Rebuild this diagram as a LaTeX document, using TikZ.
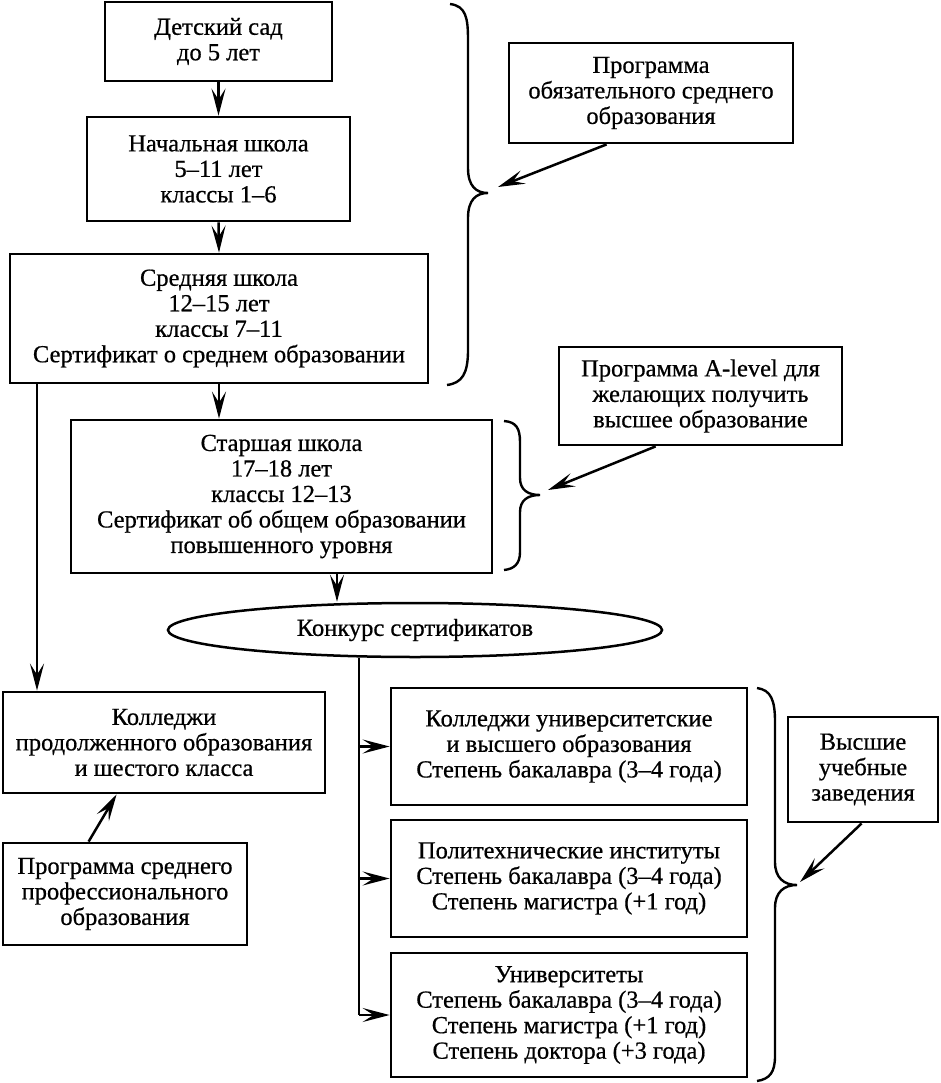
\documentclass[tikz,border=0pt]{standalone}
\usepackage{fontspec}
\setmainfont[FakeBold=0.6]{Liberation Serif}
\usetikzlibrary{arrows.meta,shapes.geometric}
\begin{document}
\begin{tikzpicture}[x=1pt,y=-1pt,
  box/.style={draw,line width=2.8pt,inner sep=0pt,align=center,font=\fontsize{24.5}{25.5}\selectfont},
  arr/.style={line width=2.5pt,-{Stealth[length=27pt,width=14pt,inset=11pt]}},
  brc/.style={line width=2.4pt}]
\fill[white] (0,0) rectangle (941,1083);
\useasboundingbox (0,0) rectangle (941,1083);

% main column
\node[box,minimum width=227pt,minimum height=79pt] (b1) at (218.5,41.5) {Детский сад\\до 5 лет};
\node[box,minimum width=263pt,minimum height=104pt] (b2) at (218.5,169) {Начальная школа\\5–11 лет\\классы 1–6};
\node[box,minimum width=418pt,minimum height=129pt] (b3) at (219,318.5) {Средняя школа\\12–15 лет\\классы 7–11\\Сертификат о среднем образовании};
\node[box,minimum width=421pt,minimum height=153pt] (b4) at (281.5,496.5) {Старшая школа\\17–18 лет\\классы 12–13\\Сертификат об общем образовании\\повышенного уровня};
\node[box,ellipse,line width=2.5pt,minimum width=494pt,minimum height=54pt] (ell) at (415,630) {Конкурс сертификатов};

% left
\node[box,minimum width=322pt,minimum height=101pt] (col) at (164,742.5) {Колледжи\\продолженного образования\\и шестого класса};
\node[box,minimum width=244pt,minimum height=102pt] (prog) at (125,894) {Программа среднего\\профессионального\\образования};

% right institutions
\node[box,minimum width=356pt,minimum height=117pt] (r1) at (569,746.5) {Колледжи университетские\\и высшего образования\\Степень бакалавра (3–4 года)};
\node[box,minimum width=356pt,minimum height=117pt] (r2) at (569,878.5) {Политехнические институты\\Степень бакалавра (3–4 года)\\Степень магистра (+1 год)};
\node[box,minimum width=356pt,minimum height=124pt] (r3) at (569,1015) {Университеты\\Степень бакалавра (3–4 года)\\Степень магистра (+1 год)\\Степень доктора (+3 года)};
\node[box,minimum width=150pt,minimum height=105pt] (vys) at (863,769.5) {Высшие\\учебные\\заведения};

% programmes
\node[box,minimum width=284pt,minimum height=100pt] (obyaz) at (651,93) {Программа\\обязательного среднего\\образования};
\node[box,minimum width=283pt,minimum height=98pt] (alev) at (700.5,396) {Программа A-level для\\желающих получить\\высшее образование};

% helper coordinates
\coordinate (lx) at (37,0);
\coordinate (tx) at (359,0);
\coordinate (t1) at (498,187);
\coordinate (t2) at (548,490);
\coordinate (t3) at (800,882);

% braces
\draw[brc] (450,4) .. controls (466,6) and (468,18) .. (468,40) -- (468,168)
  .. controls (468,186) and (476,193) .. (488,193)
  .. controls (476,193) and (468,200) .. (468,218) -- (468,350)
  .. controls (468,374) and (462,383) .. (447,385);
\draw[brc] (504,421) .. controls (516,422) and (520,428) .. (520,442) -- (520,478)
  .. controls (520,490) and (528,495) .. (540,495)
  .. controls (528,495) and (520,500) .. (520,512) -- (520,552)
  .. controls (520,564) and (514,569) .. (504,570);
\draw[brc] (757,688) .. controls (771,690) and (775,700) .. (775,722) -- (775,862)
  .. controls (775,878) and (784,885) .. (797,885)
  .. controls (784,885) and (775,892) .. (775,908) -- (775,1056)
  .. controls (775,1072) and (770,1079) .. (757,1081);

% connectors
\draw[arr] (b1.south) -- (b2.north);
\draw[arr] (b2.south) -- (b3.north);
\draw[arr] (b3.south) -- (b3.south |- b4.north);
\draw[arr] (b3.south -| lx) -- (col.north -| lx);
\draw[arr] ([xshift=55.5pt]b4.south) -- ([xshift=55.5pt]b4.south |- ell.north);
\draw[line width=2.5pt] (ell.south -| tx) -- (tx |- r3.west);
\draw[arr] (tx |- r1.west) -- (r1.west);
\draw[arr] (tx |- r2.west) -- (r2.west);
\draw[arr] (tx |- r3.west) -- (r3.west);
\draw[arr] ([xshift=87pt]prog.north west) -- ([xshift=115pt]col.south west);
\draw[arr] ([xshift=99pt]obyaz.south west) -- (t1);
\draw[arr] ([xshift=98pt]alev.south west) -- (t2);
\draw[arr] ([xshift=75pt]vys.south west) -- (t3);
\end{tikzpicture}
\end{document}
